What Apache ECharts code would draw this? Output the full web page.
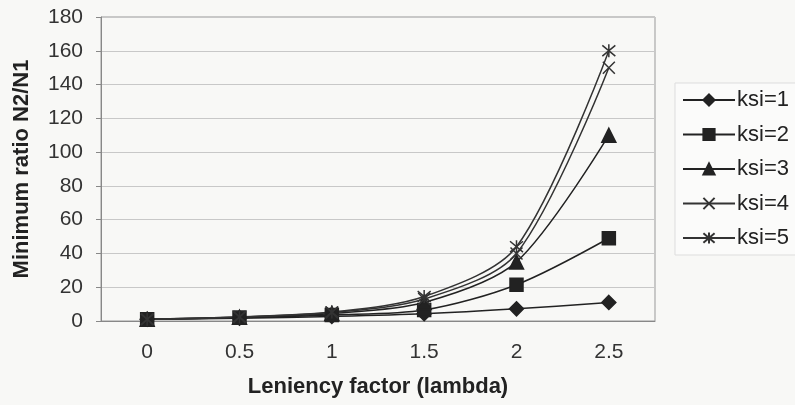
<!DOCTYPE html>
<html lang="en">
    <head>
        <meta charset="UTF-8" />
        <title>Minimum ratio N2/N1</title>
        <script src="https://cdn.jsdelivr.net/npm/echarts@6/dist/echarts.min.js"></script>
        <style>
            body {
                margin: 0;
                padding: 0;
                background: #f8f8f6;
            }

            #chart {
                width: 795px;
                height: 405px;
            }
        </style>
    </head>
    <body>
        <div id="chart"></div>
        <script>
            let lambdas = ['0', '0.5', '1', '1.5', '2', '2.5'];
            let ksi1 = [1, 1.6, 2.7, 4.3, 7.2, 11];
            let ksi2 = [1, 2, 3.6, 6.5, 21.5, 49];
            let ksi3 = [1, 2.2, 4.5, 11, 35, 110];
            let ksi4 = [1, 2.3, 5, 13, 40, 150];
            let ksi5 = [1, 2.4, 5.3, 14.5, 44, 160];
            let yTicks = [0, 20, 40, 60, 80, 100, 120, 140, 160, 180];

            let crossPath = 'path://M0,0L10,10M10,0L0,10';
            let starPath = 'path://M0,0L10,10M10,0L0,10M5,-1L5,11';

            function makeSeries(name, data, symbol, size, color) {
                return {
                    name: name,
                    type: 'line',
                    data: data,
                    smooth: 0.3,
                    symbol: symbol,
                    symbolSize: size,
                    lineStyle: { color: color, width: 1.5 },
                    itemStyle: { color: color, borderColor: color, borderWidth: 1.5 }
                };
            }

            let chartDom = document.getElementById('chart');
            let myChart = echarts.init(chartDom);

            let option = {
                animation: false,
                backgroundColor: '#f8f8f6',
                textStyle: { fontFamily: 'Liberation Sans' },
                grid: {
                    left: 101,
                    right: 140,
                    top: 17,
                    bottom: 84,
                    show: true,
                    borderColor: '#999',
                    borderWidth: 1
                },
                legend: {
                    orient: 'vertical',
                    left: 675,
                    top: 83,
                    itemWidth: 52,
                    itemHeight: 14,
                    itemGap: 12.5,
                    padding: [6, 12, 6, 7],
                    backgroundColor: '#fbfbfa',
                    borderColor: '#ddd',
                    borderWidth: 1,
                    textStyle: { fontSize: 22, color: '#222', padding: [0, 0, 0, -3] },
                    data: ['ksi=1', 'ksi=2', 'ksi=3', 'ksi=4', 'ksi=5']
                },
                xAxis: {
                    type: 'category',
                    data: lambdas,
                    name: 'Leniency factor (lambda)',
                    nameLocation: 'middle',
                    nameGap: 55,
                    nameTextStyle: { fontSize: 22, fontWeight: 'bold', color: '#222' },
                    axisLine: { lineStyle: { color: '#888' } },
                    axisTick: { length: 5, lineStyle: { color: '#888' } },
                    axisLabel: { fontSize: 21, color: '#333', margin: 21 }
                },
                yAxis: {
                    type: 'value',
                    min: yTicks[0],
                    max: yTicks[yTicks.length - 1],
                    interval: 20,
                    name: 'Minimum ratio N2/N1',
                    nameLocation: 'middle',
                    nameGap: 68,
                    nameTextStyle: { fontSize: 22, fontWeight: 'bold', color: '#222' },
                    axisLine: { show: true, lineStyle: { color: '#888' } },
                    axisTick: { show: true, length: 5, lineStyle: { color: '#888' } },
                    axisLabel: { fontSize: 21, color: '#333', margin: 18 },
                    splitLine: { lineStyle: { color: '#c8c8c8' } }
                },
                series: [
                    makeSeries('ksi=1', ksi1, 'diamond', 14, '#222'),
                    makeSeries('ksi=2', ksi2, 'rect', 13, '#222'),
                    makeSeries('ksi=3', ksi3, 'triangle', 14, '#222'),
                    makeSeries('ksi=4', ksi4, crossPath, 12, '#333'),
                    makeSeries('ksi=5', ksi5, starPath, 13, '#333')
                ]
            };
            myChart.setOption(option);
        </script>
    </body>
</html>
